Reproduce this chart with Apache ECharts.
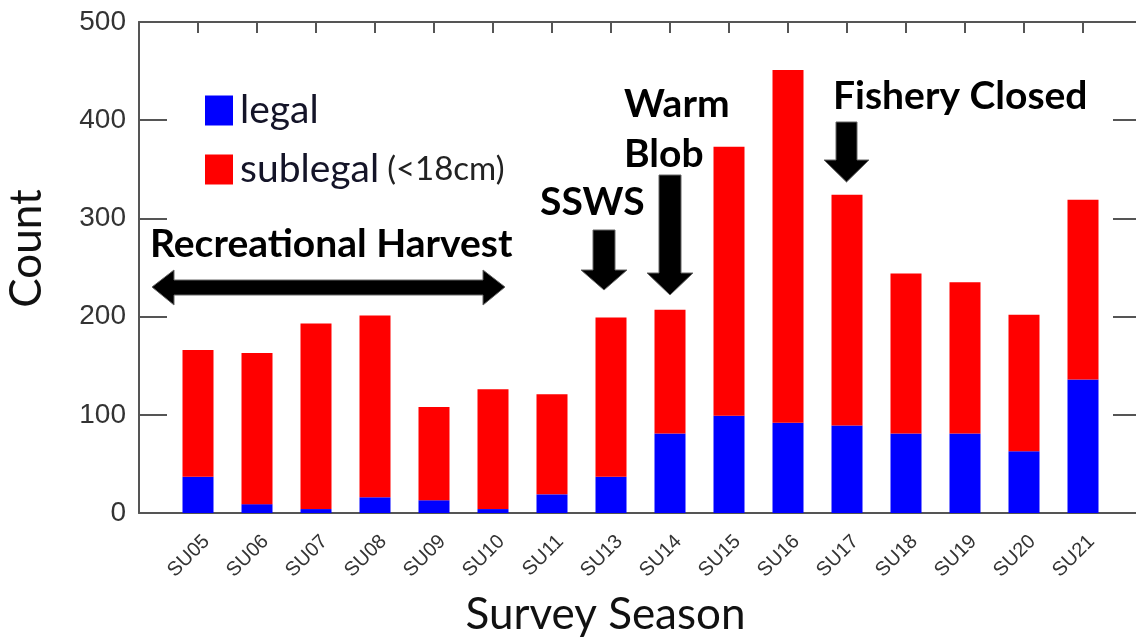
<!DOCTYPE html>
<html>
<head>
<meta charset="utf-8">
<script src="https://cdn.jsdelivr.net/npm/echarts@6/dist/echarts.min.js"></script>
<style>
html,body{margin:0;padding:0;background:#fff;}
#chart{width:1136px;height:642px;}
</style>
</head>
<body>
<div id="chart"></div>
<script>
const categories = ['SU05','SU06','SU07','SU08','SU09','SU10','SU11','SU13','SU14','SU15','SU16','SU17','SU18','SU19','SU20','SU21'];
const legalValues = [37, 9, 4, 16, 13, 4, 19, 37, 81, 99, 92, 89, 81, 81, 63, 136];
const sublegalValues = [129, 154, 189, 185, 95, 122, 102, 162, 126, 274, 359, 235, 163, 154, 139, 183];
const yTicks = [0, 100, 200, 300, 400, 500];

const chart = echarts.init(document.getElementById('chart'), null, {renderer: 'canvas'});
const FONT = 'Lato, "Open Sans", sans-serif';
const ARIAL = '"Liberation Sans", Arial, sans-serif';
const BLUE = '#0000ff';
const RED = '#ff0000';
const AX = '#555';

// one empty slot at each end of the axis (the frame extends one step past the first/last survey)
const axisCats = [''].concat(categories, ['']);
const pad = function (arr) { return [null].concat(arr, [null]); };

function downArrow(cx, yTop, yShaftEnd, yTip, shaftW, headW) {
  const s = shaftW / 2, h = headW / 2;
  return {
    type: 'polygon',
    shape: {points: [[cx - s, yTop], [cx + s, yTop], [cx + s, yShaftEnd], [cx + h, yShaftEnd], [cx, yTip], [cx - h, yShaftEnd], [cx - s, yShaftEnd]]},
    style: {fill: '#000', stroke: '#666', lineWidth: 1}
  };
}
function annot(text, x, y) {
  return {type: 'text', left: x, top: y, style: {text: text, font: 'bold 39px ' + FONT, fill: '#000'}};
}

const option = {
  animation: false,
  backgroundColor: '#fff',
  grid: {left: 139, right: -6, top: 22, bottom: 129, containLabel: false, outerBoundsMode: 'none'},
  legend: {
    orient: 'vertical',
    left: 200, top: 86,
    itemWidth: 28, itemHeight: 30, itemGap: 20,
    icon: 'rect',
    data: ['legal', 'sublegal'],
    formatter: function (n) { return n === 'sublegal' ? '{a|sublegal}{b|(<18cm)}' : '{a|legal}'; },
    textStyle: {
      color: '#111', padding: [0, 0, 0, 2],
      rich: {
        a: {fontFamily: FONT, fontSize: 39, color: '#141428', lineHeight: 30},
        b: {fontFamily: FONT, fontSize: 33, color: '#222', lineHeight: 30, padding: [0, 0, 0, 8]}
      }
    }
  },
  xAxis: [{
    type: 'category',
    data: axisCats,
    boundaryGap: false,
    position: 'bottom',
    axisLine: {show: true, onZero: false, lineStyle: {color: AX, width: 2}},
    axisTick: {show: false},
    splitLine: {show: false},
    axisLabel: {interval: 0, rotate: 45, fontSize: 20, color: '#333', fontFamily: ARIAL, margin: 17,
      verticalAlign: 'top', lineHeight: 24},
    name: 'Survey Season',
    nameLocation: 'middle',
    nameGap: 80,
    nameTextStyle: {fontFamily: FONT, fontSize: 44, color: '#111', padding: [0, 70, 0, 0]}
  }, {
    type: 'category',
    data: axisCats,
    boundaryGap: false,
    position: 'top',
    axisLine: {show: true, onZero: false, lineStyle: {color: AX, width: 2}},
    axisTick: {show: true, inside: true, interval: 0, length: 11, lineStyle: {color: AX, width: 2}},
    splitLine: {show: false},
    axisLabel: {show: false}
  }],
  yAxis: [{
    type: 'value',
    min: 0, max: 500, interval: 100,
    position: 'left',
    axisLine: {show: true, onZero: false, lineStyle: {color: AX, width: 2}},
    axisTick: {show: true, inside: true, length: 28, lineStyle: {color: AX, width: 2}},
    axisLabel: {fontSize: 28, color: '#333', fontFamily: ARIAL, margin: 13,
      formatter: function (v) { return yTicks.indexOf(v) >= 0 ? String(v) : ''; }},
    splitLine: {show: false},
    name: 'Count',
    nameLocation: 'middle',
    nameGap: 90,
    nameRotate: 90,
    nameTextStyle: {fontFamily: FONT, fontSize: 44, color: '#111', padding: [0, 0, 0, 38]}
  }, {
    type: 'value',
    min: 0, max: 500, interval: 100,
    position: 'right',
    axisLine: {show: true, onZero: false, lineStyle: {color: AX, width: 2}},
    axisTick: {show: true, inside: true, length: 29, lineStyle: {color: AX, width: 2}},
    axisLabel: {show: false},
    splitLine: {show: false}
  }],
  series: [{
    name: 'legal', type: 'bar', stack: 'total', xAxisIndex: 0, yAxisIndex: 0,
    data: pad(legalValues),
    barWidth: 31, itemStyle: {color: BLUE}
  }, {
    name: 'sublegal', type: 'bar', stack: 'total', xAxisIndex: 0, yAxisIndex: 0,
    data: pad(sublegalValues),
    barWidth: 31, itemStyle: {color: RED}
  }],
  graphic: [
    annot('Recreational Harvest', 150, 225),
    {type: 'polygon', shape: {points: [[152, 287], [174, 270], [174, 280], [483, 280], [483, 270], [505, 287], [483, 305], [483, 295], [174, 295], [174, 305]]},
      style: {fill: '#000', stroke: '#666', lineWidth: 1}},
    annot('SSWS', 540, 183),
    downArrow(604, 230, 270, 290, 22, 46),
    annot('Warm', 624, 85),
    annot('Blob', 624, 135),
    downArrow(670, 175, 273, 295, 22, 46),
    annot('Fishery Closed', 833, 77),
    downArrow(846.5, 122, 160, 182, 21, 45)
  ]
};
chart.setOption(option);
</script>
</body>
</html>
